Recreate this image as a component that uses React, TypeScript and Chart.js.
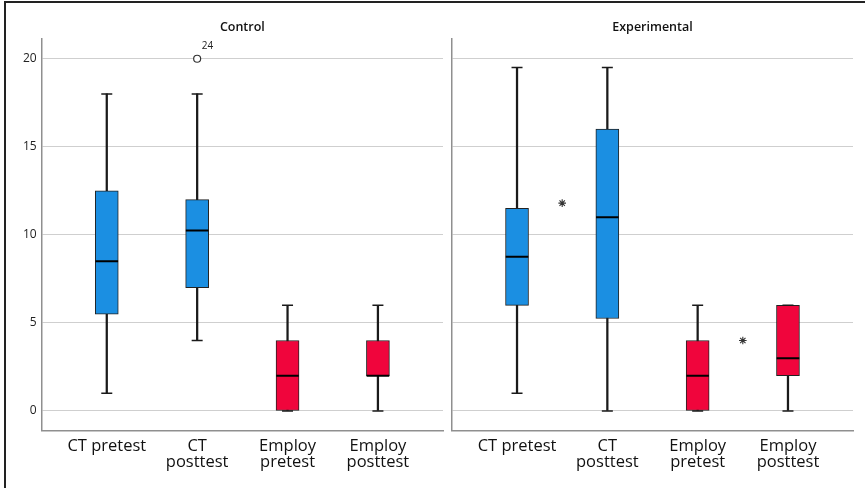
import React, { useEffect, useRef } from "react";
import { Chart, registerables } from "chart.js";

Chart.register(...registerables);

// ---- data ----
const categoryLabels: string[][] = [
  ["CT pretest"],
  ["CT", "posttest"],
  ["Employ", "pretest"],
  ["Employ", "posttest"],
];
const groupTitles = ["Control", "Experimental"];
const yTicks = [0, 5, 10, 15, 20];

const controlMin = [1, 4, 0, 0];
const controlQ1 = [5.5, 7, 0, 2];
const controlMedian = [8.5, 10.25, 2, 2];
const controlQ3 = [12.5, 12, 4, 4];
const controlMax = [18, 18, 6, 6];
const controlOutlierX = [1];
const controlOutlierY = [20];
const controlOutlierLabels = ["24"];
const controlExtremeX: number[] = [];
const controlExtremeY: number[] = [];

const experimentalMin = [1, 0, 0, 0];
const experimentalQ1 = [6, 5.25, 0, 2];
const experimentalMedian = [8.75, 11, 2, 3];
const experimentalQ3 = [11.5, 16, 4, 6];
const experimentalMax = [19.5, 19.5, 6, 6];
const experimentalOutlierX: number[] = [];
const experimentalOutlierY: number[] = [];
const experimentalOutlierLabels: string[] = [];
const experimentalExtremeX = [0.5, 2.5];
const experimentalExtremeY = [11.8, 4.0];

// ---- styles ----
const BLUE = "#1b8fe2";
const RED = "#f0053c";
const boxColors = [BLUE, BLUE, RED, RED];
const FONT = "'Open Sans', 'Liberation Sans', sans-serif";

const outlierLabelPlugin = {
  id: "outlierLabels",
  afterDatasetsDraw(chart: any) {
    chart.data.datasets.forEach((ds: any, i: number) => {
      if (!ds.pointLabels) return;
      const meta = chart.getDatasetMeta(i);
      const ctx = chart.ctx;
      ctx.save();
      ctx.font = `10px ${FONT}`;
      ctx.fillStyle = "#222";
      ctx.textAlign = "left";
      ctx.textBaseline = "middle";
      meta.data.forEach((pt: any, j: number) => {
        ctx.fillText(ds.pointLabels[j], pt.x + 4.5, pt.y - 12.5);
      });
      ctx.restore();
    });
  },
};

function buildConfig(
  title: string,
  mins: number[],
  q1: number[],
  med: number[],
  q3: number[],
  maxs: number[],
  outX: number[],
  outY: number[],
  outLabels: string[],
  extX: number[],
  extY: number[],
  showYLabels: boolean,
  yAxisWidth: number,
  padRight: number
): any {
  const idx = categoryLabels.map((_, i) => i);
  return {
    type: "bar",
    data: {
      datasets: [
        {
          type: "scatter",
          label: "median",
          data: idx.map((i) => ({ x: i, y: med[i] })),
          pointStyle: "line",
          radius: 11.3,
          hoverRadius: 11.3,
          borderColor: "#000",
          borderWidth: 2,
          order: 1,
        },
        {
          type: "scatter",
          label: "caps",
          data: [
            ...idx.map((i) => ({ x: i, y: maxs[i] })),
            ...idx.map((i) => ({ x: i, y: mins[i] })),
          ],
          pointStyle: "line",
          radius: 5.5,
          hoverRadius: 5.5,
          borderColor: "#1a1a1a",
          borderWidth: 1.5,
          order: 1,
        },
        {
          type: "scatter",
          label: "outliers",
          data: outX.map((x, i) => ({ x, y: outY[i] })),
          pointLabels: outLabels,
          pointStyle: "circle",
          radius: 3.5,
          hoverRadius: 3.5,
          backgroundColor: "#fff",
          borderColor: "#333",
          borderWidth: 1.2,
          order: 1,
        },
        {
          type: "scatter",
          label: "extremes",
          data: extX.map((x, i) => ({ x, y: extY[i] })),
          pointStyle: "star",
          radius: 3.8,
          hoverRadius: 3.8,
          borderColor: "#333",
          borderWidth: 1.1,
          order: 1,
        },
        {
          type: "bar",
          label: "box",
          data: idx.map((i) => ({ x: i, y: [q1[i], q3[i]] })),
          backgroundColor: boxColors,
          borderColor: "#222",
          borderWidth: 1,
          borderSkipped: false,
          barThickness: 23,
          grouped: false,
          order: 2,
        },
        {
          type: "bar",
          label: "whisker",
          data: idx.map((i) => ({ x: i, y: [mins[i], maxs[i]] })),
          backgroundColor: "#1a1a1a",
          borderWidth: 0,
          barThickness: 1.6,
          grouped: false,
          order: 3,
        },
      ],
    },
    options: {
      responsive: false,
      animation: false,
      events: [],
      layout: {
        autoPadding: false,
        padding: { left: 0, right: padRight, top: 0, bottom: 0 },
      },
      plugins: {
        legend: { display: false },
        tooltip: { enabled: false },
        title: {
          display: true,
          text: title,
          fullSize: false,
          color: "#111",
          font: { family: FONT, size: 12.5, weight: "600", lineHeight: 1.2 },
          padding: { top: 19.6, bottom: 4.4 },
        },
      },
      scales: {
        x: {
          type: "linear",
          offset: false,
          min: -0.72,
          max: 3.72,
          grid: { display: false, drawTicks: false, offset: false },
          border: { display: true, color: "#8f8f8f", width: 1.5 },
          afterFit: (s: any) => {
            s.height = 57.3;
            s.paddingLeft = 0;
            s.paddingRight = 0;
          },
          afterBuildTicks: (s: any) => {
            s.ticks = categoryLabels.map((_, i) => ({ value: i }));
          },
          ticks: {
            autoSkip: false,
            maxRotation: 0,
            minRotation: 0,
            padding: 7.5,
            color: "#111",
            font: { family: FONT, size: 16.5, lineHeight: 0.97 },
            callback: (v: number) => categoryLabels[v] ?? "",
          },
        },
        y: {
          type: "linear",
          min: -1.12,
          max: 21.12,
          grid: { color: "#cfcfcf", lineWidth: 1, drawTicks: false },
          border: { display: true, color: "#8f8f8f", width: 1.5 },
          afterFit: (s: any) => {
            s.width = yAxisWidth;
          },
          afterBuildTicks: (s: any) => {
            s.ticks = yTicks.map((v) => ({ value: v }));
          },
          ticks: {
            display: showYLabels,
            padding: 5,
            color: "#222",
            font: { family: FONT, size: 12 },
          },
        },
      },
    },
    plugins: [outlierLabelPlugin],
  };
}

export default function App() {
  const leftRef = useRef<HTMLCanvasElement | null>(null);
  const rightRef = useRef<HTMLCanvasElement | null>(null);

  useEffect(() => {
    const c1 = new Chart(
      leftRef.current as HTMLCanvasElement,
      buildConfig(
        groupTitles[0],
        controlMin,
        controlQ1,
        controlMedian,
        controlQ3,
        controlMax,
        controlOutlierX,
        controlOutlierY,
        controlOutlierLabels,
        controlExtremeX,
        controlExtremeY,
        true,
        41.7,
        5
      )
    );
    const c2 = new Chart(
      rightRef.current as HTMLCanvasElement,
      buildConfig(
        groupTitles[1],
        experimentalMin,
        experimentalQ1,
        experimentalMedian,
        experimentalQ3,
        experimentalMax,
        experimentalOutlierX,
        experimentalOutlierY,
        experimentalOutlierLabels,
        experimentalExtremeX,
        experimentalExtremeY,
        false,
        4,
        12
      )
    );
    return () => {
      c1.destroy();
      c2.destroy();
    };
  }, []);

  return (
    <div
      style={{
        position: "fixed",
        left: 0,
        top: 0,
        width: 865,
        height: 488,
        overflow: "hidden",
        background: "#fff",
      }}
    >
      <div
        style={{
          position: "absolute",
          left: 4,
          top: 1,
          width: 900,
          height: 600,
          borderLeft: "2px solid #222",
          borderTop: "2px solid #222",
        }}
      />
      <canvas
        ref={leftRef}
        width={448}
        height={488}
        style={{ position: "absolute", left: 0, top: 0 }}
      />
      <canvas
        ref={rightRef}
        width={417}
        height={488}
        style={{ position: "absolute", left: 448, top: 0 }}
      />
    </div>
  );
}
